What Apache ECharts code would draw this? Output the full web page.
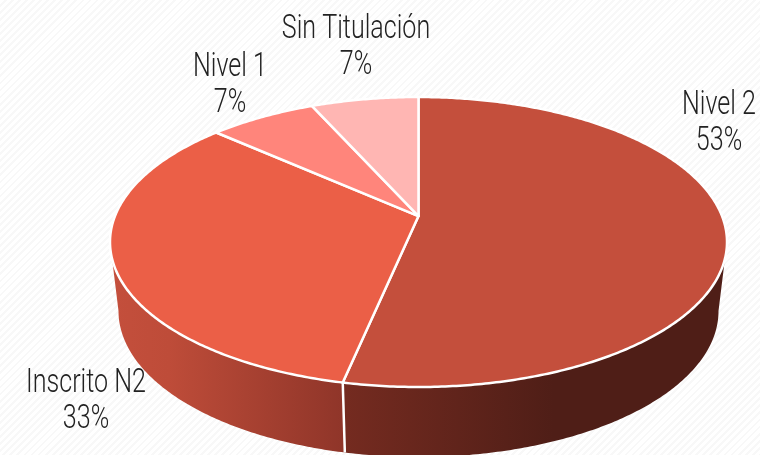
<!DOCTYPE html>
<html>
<head>
<meta charset="utf-8">
<style>
html,body{margin:0;padding:0;background:#fdfdfd;}
#c{width:760px;height:455px;background:repeating-linear-gradient(135deg,#ffffff 0,#ffffff 3px,#f8f8f8 3px,#f8f8f8 5px);}
</style>
<script src="https://cdn.jsdelivr.net/npm/echarts@6/dist/echarts.min.js"></script>
</head>
<body>
<div id="c"></div>
<script>
const categories = ['Nivel 2', 'Inscrito N2', 'Nivel 1', 'Sin Titulación'];
const values = [53.3, 33.3, 6.7, 6.7];
const topColors = ['#C44F3C', '#EB5F47', '#FF857B', '#FFB6B3'];
const wallStops = [
  [[0, '#752B20'], [0.55, '#4F1E17'], [1, '#4F1E17']],
  [[0, '#C44F3C'], [0.25, '#BE4C39'], [1, '#8F3529']],
  null,
  null
];
const labelCentres = [[719, 124], [86, 402], [230, 86], [356, 48]];

const faceE = {cx: 418.5, cy: 242, rx: 308.5, ry: 145};
const baseE = {cx: 418.5, cy: 311, rx: 300, ry: 146};
const tilt = -0.179;
const total = values.reduce((a, b) => a + b, 0);

// Position on the unit disc of a turn angle, seen in perspective.
function project(t) {
  const x = Math.sin(t), v = -Math.cos(t), d = 1 + tilt * v;
  return [x * Math.sqrt(1 - tilt * tilt) / d, (v + tilt) / d];
}
function onEllipse(p, e) {
  return [e.cx + p[0] * e.rx, e.cy + p[1] * e.ry];
}
function arc(a, b) {
  const out = [], n = Math.max(2, Math.ceil((b - a) / 0.01));
  for (let i = 0; i <= n; i++) out.push(project(a + (b - a) * i / n));
  return out;
}
const apex = [faceE.cx, faceE.cy + tilt * faceE.ry];
const visibleA = Math.acos(tilt), visibleB = 2 * Math.PI - visibleA;

function sliceAngles(i, v) {
  let before = 0;
  for (let k = 0; k < i; k++) before += values[k];
  return [before / total * 2 * Math.PI, (before + v) / total * 2 * Math.PI];
}

function renderWall(params, api) {
  const i = params.dataIndex;
  const [a, b] = sliceAngles(i, api.value(0));
  const children = [];
  const wa = Math.max(a, visibleA), wb = Math.min(b, visibleB);
  if (wb > wa && wallStops[i]) {
    const pts = arc(wa, wb);
    const poly = pts.map(p => onEllipse(p, faceE)).concat(pts.slice().reverse().map(p => onEllipse(p, baseE)));
    children.push({
      type: 'polygon',
      shape: {points: poly},
      style: {
        fill: {
          type: 'linear', x: 0, y: 0, x2: 1, y2: 0,
          colorStops: wallStops[i].map(s => ({offset: s[0], color: s[1]}))
        },
        stroke: null
      }
    });
    if (i === 0) {
      const seam = pts[pts.length - 1];
      const s1 = onEllipse(seam, faceE), s2 = onEllipse(seam, baseE);
      children.push({
        type: 'line', z2: 5,
        shape: {x1: s1[0], y1: s1[1], x2: s2[0], y2: s2[1]},
        style: {stroke: '#ffffff', lineWidth: 2.5}
      });
    }
  }
  return {type: 'group', children};
}

function renderFace(params, api) {
  const i = params.dataIndex;
  const [a, b] = sliceAngles(i, api.value(0));
  const poly = [apex].concat(arc(a, b).map(p => onEllipse(p, faceE)));
  const c = labelCentres[i];
  return {
    type: 'group',
    children: [
      {
        type: 'polygon',
        shape: {points: poly},
        style: {fill: topColors[i], stroke: '#ffffff', lineWidth: 2.5, lineJoin: 'round'}
      },
      {
        type: 'text', z2: 10,
        x: c[0], y: c[1], scaleX: 0.76,
        style: {
          x: 0, y: 0,
          text: categories[i] + '\n' + Math.round(api.value(0)) + '%',
          align: 'center', verticalAlign: 'middle',
          fontFamily: 'Roboto',
          fontWeight: 300,
          fontSize: 33, lineHeight: 36,
          fill: '#222222'
        }
      }
    ]
  };
}

const chart = echarts.init(document.getElementById('c'), null, {renderer: 'canvas'});
const data = values.map((v, i) => ({name: categories[i], value: [v]}));
chart.setOption({
  backgroundColor: 'transparent',
  animation: false,
  tooltip: {show: false},
  series: [
    {type: 'custom', coordinateSystem: 'none', renderItem: renderWall, data, z: 1, silent: true},
    {type: 'custom', coordinateSystem: 'none', renderItem: renderFace, data, z: 2, silent: true}
  ]
});
</script>
</body>
</html>
